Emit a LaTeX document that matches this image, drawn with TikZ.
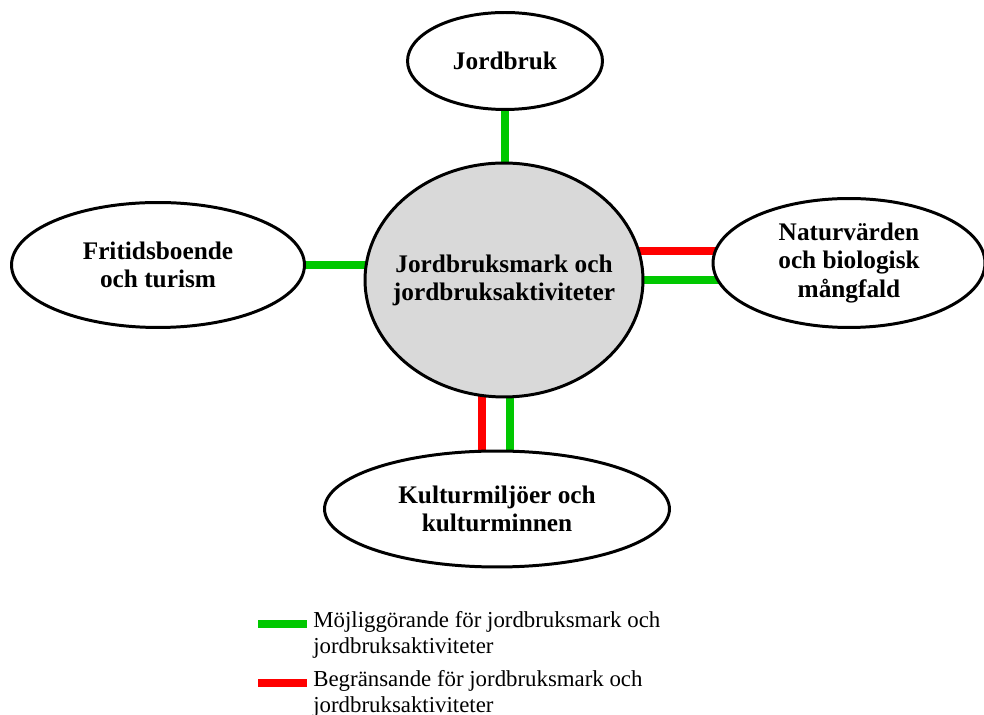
\documentclass[tikz,border=0pt]{standalone}
\usepackage{fontspec}
\setmainfont{Liberation Serif}
\usetikzlibrary{shapes.geometric,backgrounds}
\definecolor{okgreen}{RGB}{0,200,0}
\definecolor{markgray}{RGB}{217,217,217}

\begin{document}
\begin{tikzpicture}[x=0.02cm,y=-0.02cm,
	topic/.style ={ellipse, draw=black, line width=1.7pt, fill=white, inner sep=0pt, align=center, font=\bfseries\fontsize{14.4}{16}\selectfont},
	good/.style ={draw=okgreen, line width=4.8pt},
	bad/.style ={draw=red, line width=4.8pt},
	legend/.style ={anchor=north west, inner sep=0pt, align=left, font=\fontsize{13}{14.8}\selectfont}]
		\useasboundingbox (0,0) rectangle (984,715);
		\node[topic, fill=markgray, inner xsep=-0.4cm, minimum width=5.56cm, minimum height=4.68cm] (mark) at (504,280) {Jordbruksmark och\\jordbruksaktiviteter};
		\node[topic, minimum width=3.9cm, minimum height=1.94cm] (jord) at (505,61) {Jordbruk};
		\node[topic, minimum width=5.86cm, minimum height=2.5cm] (frit) at (158,265) {Fritidsboende\\och turism};
		\node[topic, minimum width=5.44cm, minimum height=2.58cm] (natur) at (849,263) {Naturvärden\\och biologisk\\mångfald};
		\node[topic, minimum width=6.9cm, minimum height=2.32cm] (kultur) at (497,509) {Kulturmiljöer och\\kulturminnen};
		% kopplingar
		\path (mark.center) ++(0,-29) coordinate (nr);
		\path (mark.center) ++(-22,0) coordinate (kr);
		\path (mark.center) ++(6,0) coordinate (kg);
		\begin{pgfonlayer}{background}
		\draw[good] (jord.center) -- (jord.center |- mark.center);
		\draw[good] (frit.center) -- (frit.center -| mark.center);
		\draw[bad] (nr) -- (nr -| natur.center);
		\draw[good] (mark.center) -- (mark.center -| natur.center);
		\draw[bad] (kr) -- (kr |- kultur.center);
		\draw[good] (kg) -- (kg |- kultur.center);
		\end{pgfonlayer}
		% teckenförklaring
		\node[legend] (leg1) at (313,611) {Möjliggörande för jordbruksmark och\\jordbruksaktiviteter};
		\node[legend] (leg2) at (313,670) {Begränsande för jordbruksmark och\\jordbruksaktiviteter};
		\coordinate (sw1) at (258,624);
		\coordinate (sw2) at (258,683);
		\draw[good] (sw1) -- ++(49,0);
		\draw[bad] (sw2) -- ++(49,0);
	\end{tikzpicture}
\end{document}
